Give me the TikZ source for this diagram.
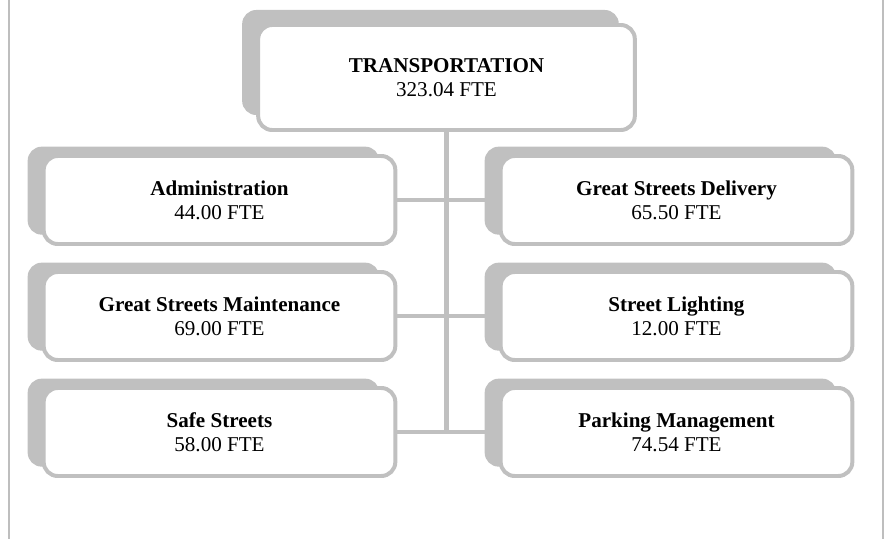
\documentclass[tikz,border=0pt]{standalone}
\usepackage{fontspec}
\setmainfont{Liberation Serif}
\usetikzlibrary{shadows}
\definecolor{rule}{RGB}{190,190,190}
\definecolor{shade}{RGB}{192,192,192}
\tikzset{
  unit/.style={draw=shade,fill=white,line width=3.4pt,rounded corners=12pt,
    minimum width=10.55cm,minimum height=2.64cm,align=center,
    font=\fontsize{18}{20.4}\selectfont,
    drop shadow={shadow xshift=-0.48cm,shadow yshift=#1,fill=shade,opacity=1}},
  unit/.default=0.28cm,
  link/.style={draw=shade,line width=3.8pt},
  side/.style={draw=rule,line width=1.8pt},
}
\begin{document}
\begin{tikzpicture}[x=0.03cm,y=-0.03cm]
  \useasboundingbox (0,0) rectangle (886,539);
  \draw[side] (9,0) -- (9,539); \draw[side] (883,0) -- (883,539);
  \node[unit=0.45cm,minimum width=11.3cm,minimum height=3.15cm] (trans) at (446.5,77.5)
    {\textbf{TRANSPORTATION}\\323.04 FTE};
  % left column
  \node[unit] (admin) at (219.5,200) {\textbf{Administration}\\44.00 FTE};
  \node[unit] (maint) at (219.5,316) {\textbf{Great Streets Maintenance}\\69.00 FTE};
  \node[unit] (safe) at (219.5,432) {\textbf{Safe Streets}\\58.00 FTE};
  % right column
  \node[unit] (deliv) at (676.5,200) {\textbf{Great Streets Delivery}\\65.50 FTE};
  \node[unit] (light) at (676.5,316) {\textbf{Street Lighting}\\12.00 FTE};
  \node[unit] (park) at (676.5,432) {\textbf{Parking Management}\\74.54 FTE};
  \draw[link] (trans.south) -- (trans.south |- safe.east);
  \foreach \a/\b in {admin/deliv,maint/light,safe/park}
    \draw[link] (\a.east) -- (\b.west);
\end{tikzpicture}
\end{document}
